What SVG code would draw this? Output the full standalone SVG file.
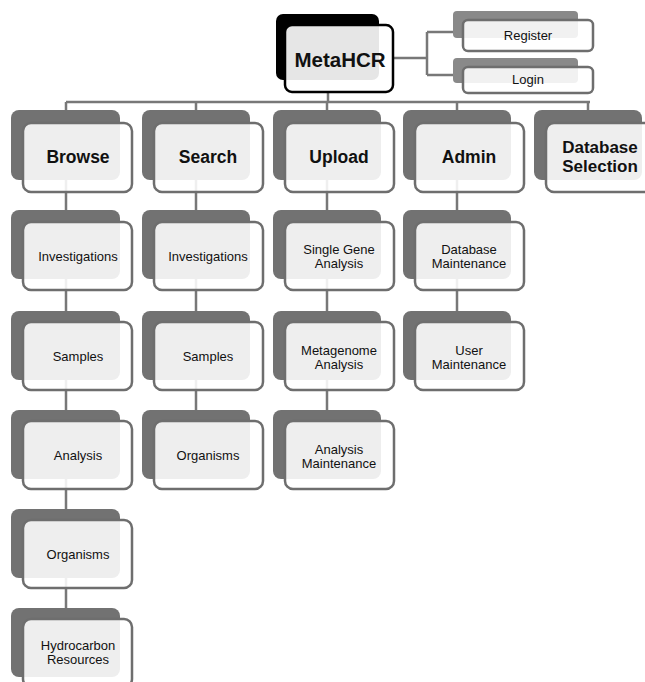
<svg xmlns="http://www.w3.org/2000/svg" width="645" height="682" viewBox="0 0 645 682">
<style>
.bk{fill:#727272}
.bks{fill:#898989}
.fr{fill:#ffffff;fill-opacity:0.88;stroke:#6e6e6e;stroke-width:2.5}
.cn{stroke:#787878;stroke-width:2.5;fill:none}
.t1{font-family:"Liberation Sans",Arial,sans-serif;font-weight:bold;font-size:17.5px;fill:#111;text-anchor:middle}
.t1s{font-family:"Liberation Sans",Arial,sans-serif;font-weight:bold;font-size:17px;fill:#111;text-anchor:middle}
.t2{font-family:"Liberation Sans",Arial,sans-serif;font-size:13px;fill:#111;text-anchor:middle}
</style>
<rect width="645" height="682" fill="#ffffff"/>
<g id="connectors" class="cn">
<path d="M393 58H427M427 32V75M427 32H453M427 75H453"/>
<path d="M328 92V102M66 102H590"/>
<path d="M66 102V110M196 102V110M327 102V110M457 102V110M588 102V110"/>
<path d="M66 179V210M66 279V311M66 380V410M66 479V509M66 578V608"/>
<path d="M196 179V210M196 279V311M196 380V410"/>
<path d="M327 179V210M327 279V311M327 380V410"/>
<path d="M457 179V210M457 279V311"/>
</g>
<g id="metahcr">
<rect x="276" y="14" width="103" height="66" rx="7" fill="#000"/>
<rect x="285" y="25" width="108" height="67" rx="7" fill="#fff" fill-opacity="0.9" stroke="#000" stroke-width="2.5"/>
<text x="340" y="67" font-family="'Liberation Sans',Arial,sans-serif" font-weight="bold" font-size="20.5" fill="#111" text-anchor="middle">MetaHCR</text>
</g>
<g id="register">
<rect class="bks" x="453" y="11" width="125" height="27" rx="4"/>
<rect class="fr" x="463" y="20" width="130" height="31" rx="5"/>
<text class="t2" x="528" y="40">Register</text>
</g>
<g id="login">
<rect class="bks" x="453" y="58" width="125" height="25" rx="4"/>
<rect class="fr" x="463" y="67" width="130" height="26" rx="5"/>
<text class="t2" x="528" y="84">Login</text>
</g>
<g id="browse">
<rect class="bk" x="11" y="110" width="109" height="70" rx="8"/>
<rect class="fr" x="23" y="123" width="109" height="69" rx="8"/>
<text class="t1" x="78" y="163">Browse</text>
</g>
<g id="search">
<rect class="bk" x="142" y="110" width="108" height="70" rx="8"/>
<rect class="fr" x="154" y="123" width="109" height="69" rx="8"/>
<text class="t1" x="208" y="163">Search</text>
</g>
<g id="upload">
<rect class="bk" x="273" y="110" width="108" height="70" rx="8"/>
<rect class="fr" x="285" y="123" width="109" height="69" rx="8"/>
<text class="t1" x="339" y="163">Upload</text>
</g>
<g id="admin">
<rect class="bk" x="403" y="110" width="108" height="70" rx="8"/>
<rect class="fr" x="415" y="123" width="109" height="69" rx="8"/>
<text class="t1" x="469" y="163">Admin</text>
</g>
<g id="dbselection">
<rect class="bk" x="534" y="110" width="108" height="70" rx="8"/>
<rect class="fr" x="546" y="123" width="109" height="69" rx="8"/>
<text class="t1s" x="600" y="153">Database</text>
<text class="t1s" x="600" y="172">Selection</text>
</g>
<g id="browse-investigations">
<rect class="bk" x="11" y="210" width="109" height="69" rx="8"/>
<rect class="fr" x="23" y="222" width="109" height="68" rx="8"/>
<text class="t2" x="78" y="261">Investigations</text>
</g>
<g id="browse-samples">
<rect class="bk" x="11" y="311" width="109" height="69" rx="8"/>
<rect class="fr" x="23" y="322" width="109" height="68" rx="8"/>
<text class="t2" x="78" y="361">Samples</text>
</g>
<g id="browse-analysis">
<rect class="bk" x="11" y="410" width="109" height="69" rx="8"/>
<rect class="fr" x="23" y="421" width="109" height="68" rx="8"/>
<text class="t2" x="78" y="460">Analysis</text>
</g>
<g id="browse-organisms">
<rect class="bk" x="11" y="509" width="109" height="69" rx="8"/>
<rect class="fr" x="23" y="520" width="109" height="68" rx="8"/>
<text class="t2" x="78" y="559">Organisms</text>
</g>
<g id="browse-hydrocarbon">
<rect class="bk" x="11" y="608" width="109" height="69" rx="8"/>
<rect class="fr" x="23" y="619" width="109" height="68" rx="8"/>
<text class="t2" x="78" y="650">Hydrocarbon</text>
<text class="t2" x="78" y="664">Resources</text>
</g>
<g id="search-investigations">
<rect class="bk" x="142" y="210" width="108" height="69" rx="8"/>
<rect class="fr" x="154" y="222" width="109" height="68" rx="8"/>
<text class="t2" x="208" y="261">Investigations</text>
</g>
<g id="search-samples">
<rect class="bk" x="142" y="311" width="108" height="69" rx="8"/>
<rect class="fr" x="154" y="322" width="109" height="68" rx="8"/>
<text class="t2" x="208" y="361">Samples</text>
</g>
<g id="search-organisms">
<rect class="bk" x="142" y="410" width="108" height="69" rx="8"/>
<rect class="fr" x="154" y="421" width="109" height="68" rx="8"/>
<text class="t2" x="208" y="460">Organisms</text>
</g>
<g id="upload-single">
<rect class="bk" x="273" y="210" width="108" height="69" rx="8"/>
<rect class="fr" x="285" y="222" width="109" height="68" rx="8"/>
<text class="t2" x="339" y="254">Single Gene</text>
<text class="t2" x="339" y="268">Analysis</text>
</g>
<g id="upload-metagenome">
<rect class="bk" x="273" y="311" width="108" height="69" rx="8"/>
<rect class="fr" x="285" y="322" width="109" height="68" rx="8"/>
<text class="t2" x="339" y="355">Metagenome</text>
<text class="t2" x="339" y="369">Analysis</text>
</g>
<g id="upload-maintenance">
<rect class="bk" x="273" y="410" width="108" height="69" rx="8"/>
<rect class="fr" x="285" y="421" width="109" height="68" rx="8"/>
<text class="t2" x="339" y="454">Analysis</text>
<text class="t2" x="339" y="468">Maintenance</text>
</g>
<g id="admin-db">
<rect class="bk" x="403" y="210" width="108" height="69" rx="8"/>
<rect class="fr" x="415" y="222" width="109" height="68" rx="8"/>
<text class="t2" x="469" y="254">Database</text>
<text class="t2" x="469" y="268">Maintenance</text>
</g>
<g id="admin-user">
<rect class="bk" x="403" y="311" width="108" height="69" rx="8"/>
<rect class="fr" x="415" y="322" width="109" height="68" rx="8"/>
<text class="t2" x="469" y="355">User</text>
<text class="t2" x="469" y="369">Maintenance</text>
</g>
</svg>
